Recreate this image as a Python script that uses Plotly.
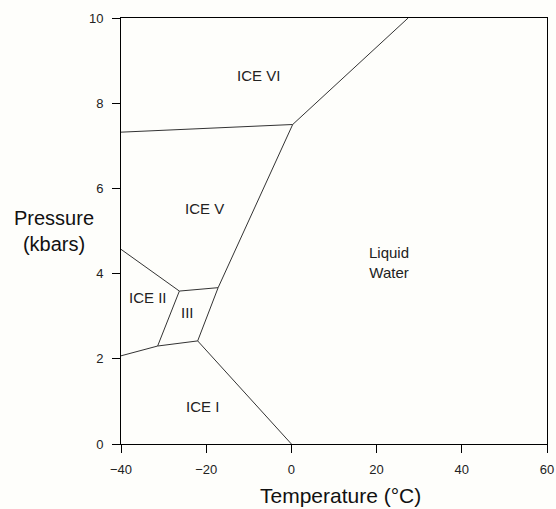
import plotly.graph_objects as go

# Phase boundaries (Temperature in °C, Pressure in kbars)
boundary_names = ["I-Liquid", "I-III", "I-II", "II-III", "III-V", "III-Liquid",
                  "II-V", "V-Liquid", "VI-Liquid", "V-VI"]
boundary_T = [[0, -22], [-22, -31.4], [-31.4, -40], [-31.4, -26.3], [-26.3, -17.2],
              [-22, -17.2], [-26.3, -40], [-17.2, 0.3], [0.3, 27.4], [-40, 0.3]]
boundary_P = [[0, 2.42], [2.42, 2.3], [2.3, 2.07], [2.3, 3.59], [3.59, 3.67],
              [2.42, 3.67], [3.59, 4.57], [3.67, 7.5], [7.5, 10], [7.32, 7.5]]

# Phase region labels
region_labels = ["ICE VI", "ICE V", "ICE II", "III", "ICE I", "Liquid<br>Water"]
region_T = [-7.8, -20.3, -33.7, -24.5, -20.8, 22.8]
region_P = [8.66, 5.52, 3.43, 3.08, 0.87, 4.25]

x_ticks = [-40, -20, 0, 20, 40, 60]
y_ticks = [0, 2, 4, 6, 8, 10]

fig = go.Figure()
for name, T, P in zip(boundary_names, boundary_T, boundary_P):
    fig.add_trace(go.Scatter(x=T, y=P, mode="lines", name=name,
                             line=dict(color="#333333", width=1),
                             showlegend=False, hoverinfo="skip"))

font = "Liberation Sans, Arial, sans-serif"
for lab, T, P in zip(region_labels, region_T, region_P):
    fig.add_annotation(x=T, y=P, text=lab, showarrow=False, xref="x", yref="y",
                       font=dict(family=font, size=15, color="#222222"))

fig.add_annotation(x=0.516, y=-0.12, xref="paper", yref="paper", text="Temperature (°C)",
                   showarrow=False, yanchor="middle",
                   font=dict(family=font, size=21, color="#111111"))
fig.add_annotation(x=-0.158, y=0.5, xref="paper", yref="paper", text="Pressure<br>(kbars)",
                   showarrow=False, xanchor="center", yanchor="middle",
                   font=dict(family=font, size=20, color="#111111"))

axis_common = dict(showgrid=False, zeroline=False, showline=True, linecolor="black",
                   linewidth=1, mirror=True, ticks="outside", ticklen=8, automargin=False,
                   tickcolor="black", tickfont=dict(family=font, size=13, color="#222222"))
fig.update_xaxes(range=[-40, 60], tickvals=x_ticks, ticklabelstandoff=5, **axis_common)
fig.update_yaxes(range=[0, 10], tickvals=y_ticks, ticklabelstandoff=6, **axis_common)

fig.update_layout(width=556, height=509,
                  margin=dict(l=121, r=9, t=18, b=65),
                  paper_bgcolor="#fefefb", plot_bgcolor="#fefefb",
                  showlegend=False)

fig.write_html("out.html", config={"displayModeBar": False},
               post_script="document.body.style.margin='0';document.body.style.padding='0';")
